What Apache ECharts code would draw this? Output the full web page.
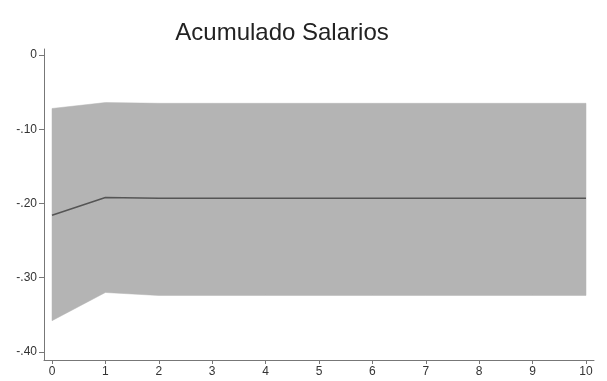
<!DOCTYPE html>
<html>
<head>
<meta charset="utf-8">
<script src="https://cdn.jsdelivr.net/npm/echarts@6/dist/echarts.min.js"></script>
<style>
  html, body { margin: 0; padding: 0; background: #fff; }
  #chart { width: 607px; height: 381px; }
</style>
</head>
<body>
<div id="chart"></div>
<script>
// Horizon steps
const steps = [0, 1, 2, 3, 4, 5, 6, 7, 8, 9, 10];
// Point estimate of the cumulative response
const response = [-0.216, -0.192, -0.193, -0.193, -0.193, -0.193, -0.193, -0.193, -0.193, -0.193, -0.193];
// Confidence band bounds
const upper = [-0.072, -0.064, -0.065, -0.065, -0.065, -0.065, -0.065, -0.065, -0.065, -0.065, -0.065];
const lower = [-0.358, -0.320, -0.324, -0.324, -0.324, -0.324, -0.324, -0.324, -0.324, -0.324, -0.324];
// Tick positions and labels
const yTicks = [0, -0.1, -0.2, -0.3, -0.4];
const yTickLabels = { '0': '0', '-0.1': '-.10', '-0.2': '-.20', '-0.3': '-.30', '-0.4': '-.40' };
const xTicks = [0, 1, 2, 3, 4, 5, 6, 7, 8, 9, 10];

const chart = echarts.init(document.getElementById('chart'), null, { renderer: 'canvas' });

const bandRows = steps.map((s, i) => [s, upper[i], lower[i]]);
const respPts = steps.map((s, i) => [s, response[i]]);

// Draws the whole confidence band as one polygon: upper edge left-to-right, lower edge back.
function renderBand(params, api) {
  if (params.dataIndex !== 0) return null;
  const top = bandRows.map(r => api.coord([r[0], r[1]]));
  const bottom = bandRows.map(r => api.coord([r[0], r[2]])).reverse();
  return {
    type: 'polygon',
    shape: { points: top.concat(bottom) },
    style: { fill: '#b4b4b4', stroke: '#b4b4b4', lineWidth: 0.5 }
  };
}

const tickFont = { color: '#333', fontFamily: 'Liberation Sans, Arial, sans-serif', fontSize: 12 };

chart.setOption({
  animation: false,
  backgroundColor: '#ffffff',
  title: {
    text: 'Acumulado Salarios',
    left: 277,
    top: 16,
    textAlign: 'center',
    textStyle: { fontFamily: 'Liberation Sans, Arial, sans-serif', fontSize: 24, fontWeight: 'normal', color: '#222' }
  },
  grid: { left: 44, right: 13, top: 49, bottom: 21 },
  xAxis: {
    type: 'value',
    min: -0.15,
    max: 10.15,
    splitLine: { show: false },
    axisLine: { show: true, onZero: false, lineStyle: { color: '#777', width: 1 } },
    axisTick: { show: true, customValues: xTicks, length: 4, lineStyle: { color: '#777' } },
    axisLabel: Object.assign({
      customValues: xTicks,
      margin: 6,
      formatter: v => String(Math.round(v))
    }, tickFont)
  },
  yAxis: {
    type: 'value',
    min: -0.411,
    max: 0.0082,
    splitLine: { show: false },
    axisLine: { show: true, onZero: false, lineStyle: { color: '#777', width: 1 } },
    axisTick: { show: true, customValues: yTicks, length: 5, lineStyle: { color: '#777' } },
    axisLabel: Object.assign({
      customValues: yTicks,
      margin: 7,
      formatter: v => yTickLabels[String(Math.round(v * 10) / 10)] || ''
    }, tickFont)
  },
  series: [
    {
      type: 'custom',
      data: bandRows,
      encode: { x: 0, y: [1, 2] },
      renderItem: renderBand,
      silent: true,
      z: 1
    },
    {
      type: 'line',
      data: respPts,
      symbol: 'none',
      lineStyle: { color: '#555', width: 1.5 },
      z: 5
    }
  ]
});
</script>
</body>
</html>
